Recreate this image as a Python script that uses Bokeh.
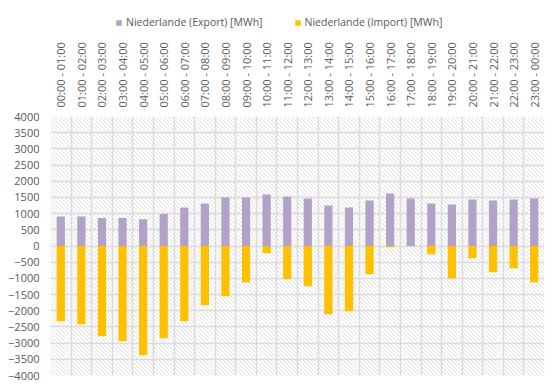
import math
from bokeh.plotting import figure
from bokeh.layouts import column
from bokeh.models import Range1d, FixedTicker, Legend, LegendItem
from bokeh.embed import file_html
from bokeh.resources import INLINE

hours = ["00:00 - 01:00", "01:00 - 02:00", "02:00 - 03:00", "03:00 - 04:00",
         "04:00 - 05:00", "05:00 - 06:00", "06:00 - 07:00", "07:00 - 08:00",
         "08:00 - 09:00", "09:00 - 10:00", "10:00 - 11:00", "11:00 - 12:00",
         "12:00 - 13:00", "13:00 - 14:00", "14:00 - 15:00", "15:00 - 16:00",
         "16:00 - 17:00", "17:00 - 18:00", "18:00 - 19:00", "19:00 - 20:00",
         "20:00 - 21:00", "21:00 - 22:00", "22:00 - 23:00", "23:00 - 00:00"]
export_mwh = [915, 915, 864, 864, 823, 987, 1193, 1316, 1501, 1501, 1594, 1532,
              1470, 1254, 1193, 1409, 1625, 1470, 1316, 1285, 1440, 1409, 1440, 1470]
import_mwh = [-2324, -2416, -2787, -2941, -3373, -2848, -2324, -1830, -1553, -1121,
              -226, -1028, -1244, -2108, -2015, -874, -41, 0, -257, -997, -380,
              -812, -689, -1121]
y_ticks = list(range(-4000, 4001, 500))
series_names = ["Niederlande (Export) [MWh]", "Niederlande (Import) [MWh]"]
series_colors = ["#B3A2C7", "#FFC000"]

TXT = "#595959"
GRID = "#d9d9d9"
FONT = "Open Sans"

n = len(hours)
xc = [i + 0.5 for i in range(n)]

TOTAL_W = 559
LEG_H = 34
W, H = 494, 259
BL, BR, BT, BB = 50, 15, 82, 16
ymin, ymax = y_ticks[0], y_ticks[-1]

# ---------- legend strip ----------
lf = figure(width=TOTAL_W, height=LEG_H, output_backend="svg", toolbar_location=None,
            x_axis_location=None, y_axis_location=None,
            x_range=Range1d(0, 1), y_range=Range1d(0, 1),
            min_border_left=0, min_border_right=0, min_border_top=0, min_border_bottom=0)
lf.outline_line_color = None
lf.grid.visible = False
# zero-size stand-in glyphs that only provide the legend swatch styling
dummy = [lf.quad(left=[0], right=[0], bottom=[0], top=[0], fill_color=c, line_color=None)
         for c in series_colors]
legend = Legend(items=[LegendItem(label=s, renderers=[r]) for s, r in zip(series_names, dummy)],
                orientation="horizontal", location=(65, 5),
                glyph_width=7, glyph_height=7, label_standoff=4, spacing=31,
                label_text_font=FONT, label_text_font_size="10.5px", label_text_color=TXT,
                border_line_color=None, background_fill_alpha=0, padding=2, margin=0,
                label_height=12)
lf.add_layout(legend, "center")

# ---------- main chart ----------
p = figure(frame_width=W, frame_height=H, output_backend="svg", toolbar_location=None,
           x_range=Range1d(0, n), y_range=Range1d(ymin, ymax),
           x_axis_location="above",
           min_border_left=BL, min_border_right=BR, min_border_top=BT, min_border_bottom=BB)
p.outline_line_color = None

# decorative diagonal hatching of the plot area (screen-space 45 deg lines)
x0s, y0s, x1s, y1s = [], [], [], []
for k in range(-H, W + 1, 4):
    sa = max(k, 0)
    sb = min(W, H + k)
    x0s.append(sa / W * n); y0s.append(ymax - (sa - k) / H * (ymax - ymin))
    x1s.append(sb / W * n); y1s.append(ymax - (sb - k) / H * (ymax - ymin))
p.segment(x0=x0s, y0=y0s, x1=x1s, y1=y1s, line_color="#e0e0e0", line_width=1)

p.vbar(x=xc, top=export_mwh, bottom=0, width=0.4, fill_color=series_colors[0], line_color=None)
p.vbar(x=xc, top=import_mwh, bottom=0, width=0.4, fill_color=series_colors[1], line_color=None)

p.xgrid.ticker = FixedTicker(ticks=list(range(n + 1)))
p.ygrid.ticker = FixedTicker(ticks=y_ticks)
for g in (p.xgrid, p.ygrid):
    g.grid_line_color = GRID
    g.grid_line_width = 1.5

xa = p.xaxis[0]
xa.ticker = FixedTicker(ticks=xc)
xa.major_label_overrides = {v: h for v, h in zip(xc, hours)}
xa.major_label_orientation = math.pi / 2
xa.major_tick_line_color = None
xa.minor_tick_line_color = None
xa.axis_line_color = None
xa.major_tick_out = 0
xa.major_tick_in = 0
xa.major_label_standoff = 9
xa.major_label_text_font = FONT
xa.major_label_text_font_size = "11px"
xa.major_label_text_color = TXT

ya = p.yaxis[0]
ya.ticker = FixedTicker(ticks=y_ticks)
ya.major_tick_line_color = None
ya.minor_tick_line_color = None
ya.axis_line_color = None
ya.major_tick_out = 0
ya.major_tick_in = 0
ya.major_label_standoff = 11
ya.major_label_text_font = FONT
ya.major_label_text_font_size = "11px"
ya.major_label_text_color = TXT

layout = column(lf, p, spacing=0)
open("out.html", "w").write(file_html(layout, INLINE))
